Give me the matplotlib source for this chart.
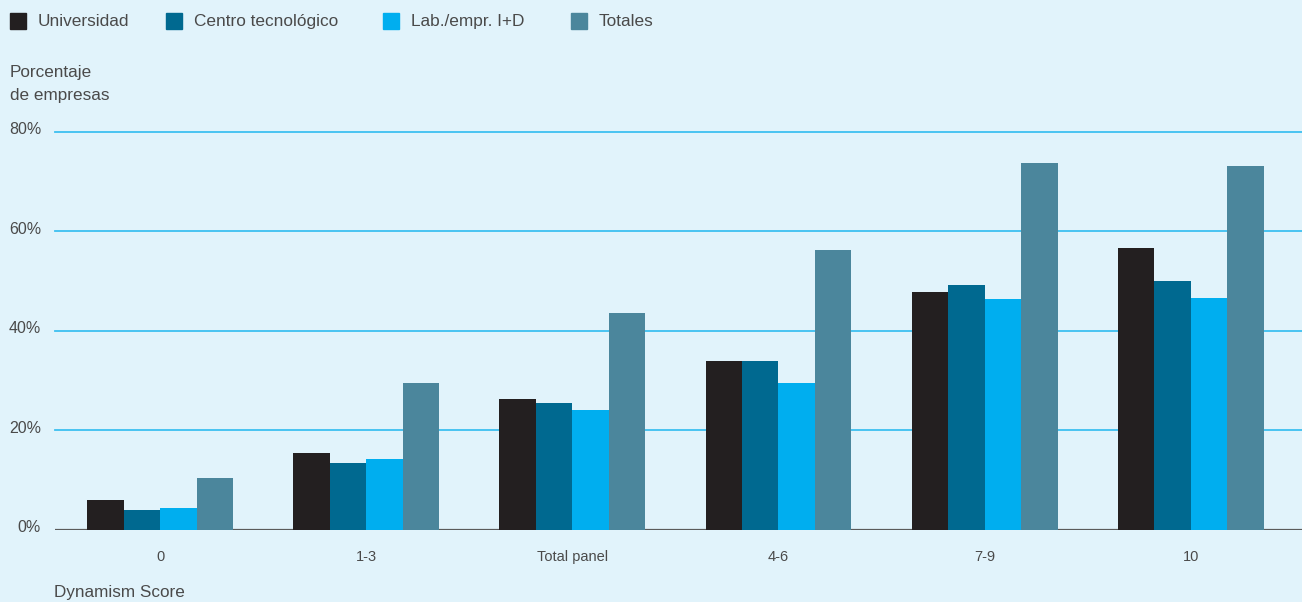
import matplotlib
matplotlib.use('Agg')
import matplotlib.pyplot as plt
import matplotlib.patches as mpatches
from matplotlib import transforms
import numpy as np

plt.rcParams.update({
    'font.family': ['Liberation Sans', 'DejaVu Sans'],
    'font.size': 11,
})

BG = '#e1f3fb'
TEXT = '#4a4a4a'
GRID = '#3cc0f0'

categories = ['0', '1-3', 'Total panel', '4-6', '7-9', '10']
series = ['Universidad', 'Centro tecnológico', 'Lab./empr. I+D', 'Totales']
universidad = [5.9, 15.4, 26.2, 33.9, 47.7, 56.6]
centro_tec = [3.9, 13.4, 25.4, 33.9, 49.3, 50.0]
lab_empr = [4.3, 14.2, 24.0, 29.4, 46.3, 46.5]
totales = [10.3, 29.4, 43.5, 56.2, 73.7, 73.1]
yticks = [0, 20, 40, 60, 80]

colors = ['#231f20', '#006990', '#00aeef', '#4b869c']
values = [universidad, centro_tec, lab_empr, totales]

W, H = 1302, 602
fig = plt.figure(figsize=(W / 100, H / 100), dpi=100, facecolor=BG)
ax = fig.add_axes([55 / W, (H - 529.5) / H, 1 - 55 / W, (529.5 - 132) / H])
ax.set_facecolor(BG)

x = np.arange(len(categories))
w = 0.177
for i, (vals, c) in enumerate(zip(values, colors)):
    ax.bar(x + (i - 1.5) * w, vals, w, color=c, zorder=3, linewidth=0)

ax.set_xlim(-0.51, 5.54)
ax.set_ylim(0, 80)
for s in ax.spines.values():
    s.set_visible(False)
for yv in yticks[1:]:
    ax.axhline(yv, color=GRID, linewidth=1.3, zorder=1, clip_on=False)
ax.axhline(0, color='#5a5a5a', linewidth=1.6, zorder=2)

ax.set_yticks([])
ax.set_xticks(x)
ax.set_xticklabels(categories, fontsize=10.5, color=TEXT)
ax.tick_params(axis='x', length=0, pad=15)

# y labels sit just above their gridline, right-aligned at the axis edge
off = transforms.offset_copy(ax.get_yaxis_transform(), fig=fig, x=-10, y=1.5, units='points')
for yv in yticks:
    ax.text(0, yv, f'{yv}%', transform=off, ha='right', va='center',
            fontsize=11.5, color=TEXT)

fig.text(10 / W, 1 - 84 / H, 'Porcentaje\nde empresas', ha='left', va='center',
         fontsize=12.3, color=TEXT, linespacing=1.6)
fig.text(54 / W, 1 - 592 / H, 'Dynamism Score', ha='left', va='center',
         fontsize=12.3, color=TEXT)

# legend row across the top
leg_x = [10, 166, 383, 571]
for lx, name, c in zip(leg_x, series, colors):
    fig.patches.append(mpatches.Rectangle((lx / W, 1 - 29 / H), 16 / W, 16 / H,
                                          transform=fig.transFigure, color=c))
    fig.text((lx + 28) / W, 1 - 21.5 / H, name, ha='left', va='center',
             fontsize=12.4, color=TEXT)

fig.savefig('out.png', dpi=100, facecolor=BG)
